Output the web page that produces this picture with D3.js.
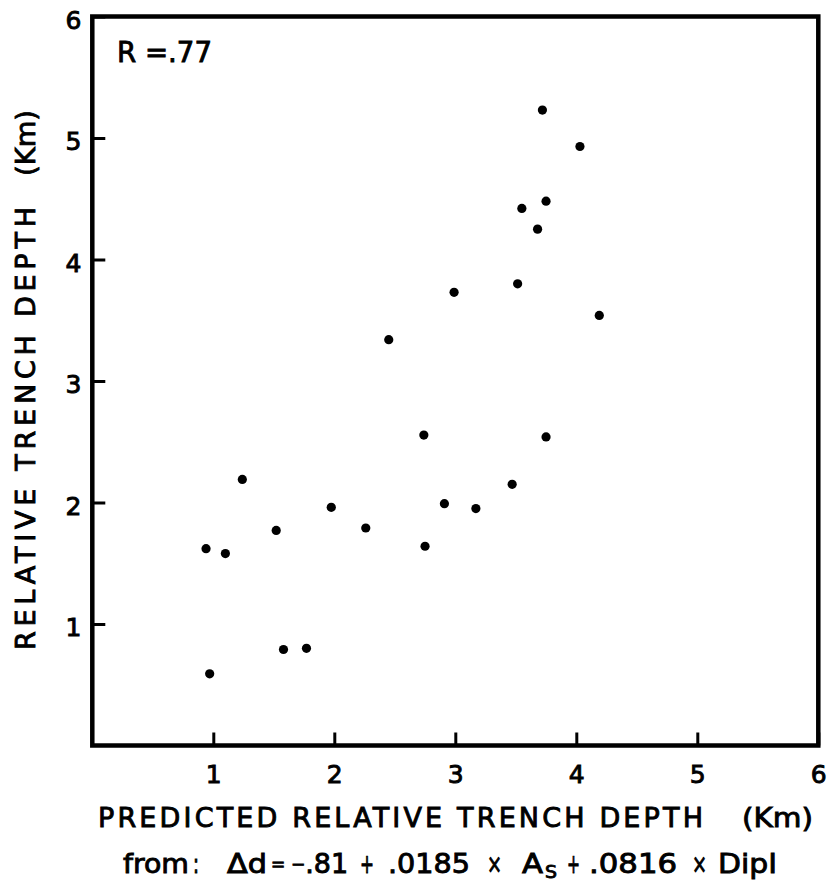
<!DOCTYPE html>
<html>
<head>
<meta charset="utf-8">
<script src="https://cdn.jsdelivr.net/npm/d3@7/dist/d3.min.js"></script>
<style>
  html, body { margin: 0; padding: 0; background: #fff; }
  svg { display: block; }
  text { font-family: "DejaVu Sans", sans-serif; fill: #000; stroke: #000; stroke-width: 0.9px; }
</style>
</head>
<body>
<svg id="chart" width="829" height="881"></svg>
<script>
// Predicted vs. observed relative trench depth (km)
const predicted = [3.72, 4.03, 3.75, 3.55, 3.68, 3.515, 2.99, 4.19, 2.45, 2.74, 3.75, 1.24,
                   3.47, 1.975, 2.91, 3.17, 1.52, 2.26, 0.94, 1.10, 2.75, 1.58, 1.77, 0.97];
const observed  = [5.23, 4.93, 4.48, 4.42, 4.25, 3.80, 3.73, 3.54, 3.34, 2.555, 2.54, 2.19,
                   2.15, 1.96, 1.99, 1.95, 1.77, 1.79, 1.62, 1.58, 1.64, 0.79, 0.80, 0.59];
const xTicks = [1, 2, 3, 4, 5, 6];
const yTicks = [1, 2, 3, 4, 5, 6];
const correlation = "R =.77";

const svg = d3.select("#chart");
const x = d3.scaleLinear().domain([0, 6]).range([92.3, 818.3]);
const y = d3.scaleLinear().domain([0, 6]).range([745.5, 16.5]);
const fmt = d3.format("d");

// axes with inward ticks
const xAxis = svg.append("g")
  .attr("transform", `translate(0,${y(0)})`)
  .call(d3.axisBottom(x).tickValues(xTicks).tickFormat(fmt).tickSize(-13).tickPadding(0));
xAxis.select(".domain").remove();
xAxis.selectAll(".tick line").attr("stroke", "#000").attr("stroke-width", 3);
xAxis.selectAll(".tick text")
  .attr("y", 37.5).attr("dy", null)
  .style("font-size", "25px");

const yAxis = svg.append("g")
  .attr("transform", `translate(${x(0)},0)`)
  .call(d3.axisLeft(y).tickValues(yTicks).tickFormat(fmt).tickSize(-13).tickPadding(0));
yAxis.select(".domain").remove();
yAxis.selectAll(".tick line").attr("stroke", "#000").attr("stroke-width", 3);
yAxis.selectAll(".tick text")
  .attr("x", -11).attr("dy", "11.5px")
  .style("font-size", "25px");

// plot frame
svg.append("rect")
  .attr("x", x(0)).attr("y", y(6))
  .attr("width", x(6) - x(0)).attr("height", y(0) - y(6))
  .attr("fill", "none").attr("stroke", "#000").attr("stroke-width", 4.5);

// data points
svg.append("g").selectAll("circle")
  .data(predicted.map((p, i) => [p, observed[i]]))
  .join("circle")
  .attr("cx", d => x(d[0]))
  .attr("cy", d => y(d[1]))
  .attr("r", 4.6)
  .attr("fill", "#000");

// correlation label
svg.append("text")
  .attr("x", 117).attr("y", 62)
  .attr("textLength", 95).attr("lengthAdjust", "spacingAndGlyphs")
  .style("font-size", "28px")
  .text(correlation);

// x title
svg.append("text")
  .attr("x", 98).attr("y", 827)
  .attr("textLength", 605).attr("lengthAdjust", "spacing")
  .style("font-size", "27px")
  .text("PREDICTED RELATIVE TRENCH DEPTH");
svg.append("text")
  .attr("x", 742).attr("y", 827)
  .attr("textLength", 71).attr("lengthAdjust", "spacingAndGlyphs")
  .style("font-size", "27px")
  .text("(Km)");

// y title
svg.append("text")
  .attr("transform", "translate(35,650) rotate(-90)")
  .attr("textLength", 443).attr("lengthAdjust", "spacing")
  .style("font-size", "27px")
  .text("RELATIVE TRENCH DEPTH");
svg.append("text")
  .attr("transform", "translate(35,176) rotate(-90)")
  .attr("textLength", 66).attr("lengthAdjust", "spacingAndGlyphs")
  .style("font-size", "27px")
  .text("(Km)");

// regression formula, one piece per symbol group
const formula = [
  { t: "from", x: 123, w: 66 },
  { t: ":", x: 193, w: 6 },
  { t: "Δd", x: 227, w: 40 },
  { t: "+", x: 360, w: 14 },
  { t: ".0185", x: 388, w: 82 },
  { t: "×", x: 487, w: 15 },
  { t: "A", x: 522, w: 21 },
  { t: "+", x: 567, w: 13 },
  { t: ".0816", x: 589, w: 88 },
  { t: "×", x: 692, w: 15 },
  { t: "DipI", x: 718, w: 59 }
];
const fg = svg.append("g").style("font-size", "27px");
fg.selectAll("text.f")
  .data(formula)
  .join("text")
  .attr("class", "f")
  .attr("x", d => d.x).attr("y", 873)
  .attr("textLength", d => d.w).attr("lengthAdjust", "spacingAndGlyphs")
  .text(d => d.t);
// equals sign, set small
fg.append("text")
  .attr("x", 271).attr("y", 870)
  .style("font-size", "17px")
  .text("=");
// intercept with a short minus sign
const icpt = fg.append("text").attr("x", 291).attr("y", 873);
icpt.append("tspan").style("font-size", "17px").attr("dy", -3).text("−");
icpt.append("tspan").attr("dy", 3).text(".81");
// subscript of A
fg.append("text")
  .attr("x", 545).attr("y", 878)
  .attr("textLength", 12).attr("lengthAdjust", "spacingAndGlyphs")
  .style("font-size", "18px")
  .text("S");
</script>
</body>
</html>
